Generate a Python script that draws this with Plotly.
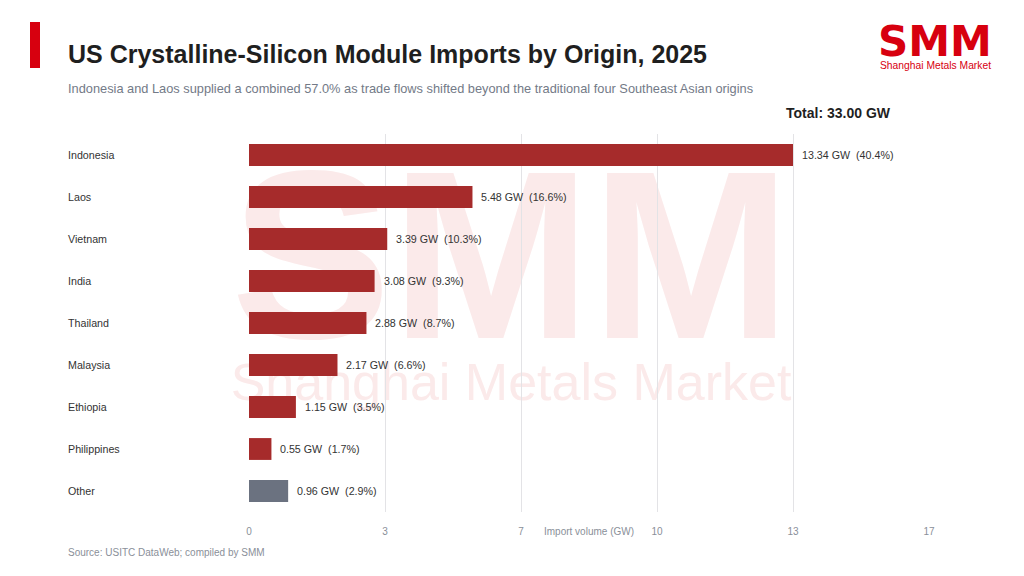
import plotly.graph_objects as go

categories = ["Indonesia", "Laos", "Vietnam", "India", "Thailand", "Malaysia", "Ethiopia", "Philippines", "Other"]
values_gw = [13.34, 5.48, 3.39, 3.08, 2.88, 2.17, 1.15, 0.55, 0.96]
shares_pct = [40.4, 16.6, 10.3, 9.3, 8.7, 6.6, 3.5, 1.7, 2.9]
total_gw = 33.00
tick_labels = ["0", "3", "7", "10", "13", "17"]

W, H = 1024, 576
L, R, T, B = 249, 929, 134, 512

def px(x):
    return (x - L) / (R - L)

def py(y):
    return (B - y) / (B - T)

RED = "#a62b2b"
SLATE = "#6b7280"
colors = [SLATE if c == "Other" else RED for c in categories]

step = max(values_gw) / 4
tickvals = [i * step for i in range(len(tick_labels))]

FONT = "Liberation Sans, Arial"

fig = go.Figure()
fig.add_trace(go.Bar(
    y=categories, x=values_gw, orientation="h",
    marker=dict(color=colors, line=dict(width=0)),
    width=0.52, hoverinfo="skip",
))

ann = []
for c in categories:
    ann.append(dict(x=px(66), xref="paper", y=c, yref="y", text=c, showarrow=False,
                    xanchor="left", yanchor="middle",
                    font=dict(family=FONT, size=10.7, color="#333333")))
for c, v, s in zip(categories, values_gw, shares_pct):
    ann.append(dict(x=v, xref="x", y=c, yref="y", text=f"{v:.2f} GW  ({s:.1f}%)", showarrow=False,
                    xanchor="left", yanchor="middle", xshift=7,
                    font=dict(family=FONT, size=10.7, color="#333333")))

ann += [
    dict(x=px(66), y=py(54), xref="paper", yref="paper", xanchor="left", yanchor="middle",
         text="<b>US Crystalline-Silicon Module Imports by Origin, 2025</b>", showarrow=False,
         font=dict(family=FONT, size=25, color="#1f1f1f")),
    dict(x=px(66), y=py(88), xref="paper", yref="paper", xanchor="left", yanchor="middle",
         text="Indonesia and Laos supplied a combined 57.0% as trade flows shifted beyond the traditional four Southeast Asian origins",
         showarrow=False, font=dict(family=FONT, size=12.8, color="#737a87")),
    dict(x=px(893), y=py(113), xref="paper", yref="paper", xanchor="right", yanchor="middle",
         text=f"<b>Total: {total_gw:.2f} GW</b>", showarrow=False,
         font=dict(family=FONT, size=14, color="#1f1f1f")),
    dict(x=0.5, y=py(531), xref="paper", yref="paper", xanchor="center", yanchor="middle",
         text="Import volume (GW)", showarrow=False,
         font=dict(family=FONT, size=10, color="#8a8f99")),
    dict(x=px(66), y=py(552), xref="paper", yref="paper", xanchor="left", yanchor="middle",
         text="Source: USITC DataWeb; compiled by SMM", showarrow=False,
         font=dict(family=FONT, size=10, color="#8a8f99")),
    dict(x=px(935), y=py(41), xref="paper", yref="paper", xanchor="center", yanchor="middle",
         text="<b>SMM</b>", showarrow=False,
         font=dict(family="DejaVu Sans", size=42, color="#d7000f")),
    dict(x=px(935), y=py(66), xref="paper", yref="paper", xanchor="center", yanchor="middle",
         text="Shanghai Metals Market", showarrow=False,
         font=dict(family=FONT, size=10.3, color="#d7000f")),
]

shapes = [
    dict(type="rect", xref="paper", yref="paper", x0=px(30), x1=px(40), y0=py(22), y1=py(68),
         fillcolor="#d7000f", line=dict(width=0), layer="above"),
    dict(type="rect", xref="paper", yref="paper", x0=px(232), x1=px(790), y0=py(315), y1=py(148),
         fillcolor="rgba(0,0,0,0)", line=dict(width=0), layer="below",
         label=dict(text="<b>SMM</b>", textposition="middle center",
                    font=dict(family=FONT, size=240, color="#fbeaea"))),
    dict(type="rect", xref="paper", yref="paper", x0=px(232), x1=px(790), y0=py(401), y1=py(353),
         fillcolor="rgba(0,0,0,0)", line=dict(width=0), layer="below",
         label=dict(text="Shanghai Metals Market", textposition="middle center",
                    font=dict(family=FONT, size=52, color="#fbeaea"))),
]

fig.update_layout(
    width=W, height=H,
    margin=dict(l=L, r=W - R, t=T, b=H - B, pad=0),
    paper_bgcolor="white", plot_bgcolor="rgba(0,0,0,0)",
    showlegend=False, bargap=0.48,
    annotations=ann, shapes=shapes,
    font=dict(family=FONT),
)
fig.update_xaxes(range=[0, tickvals[-1]], tickvals=tickvals, ticktext=tick_labels,
                 showgrid=True, gridcolor="#e3e3e6", gridwidth=1, zeroline=False,
                 showline=False, ticks="", ticklabelstandoff=12,
                 tickfont=dict(size=10, color="#8a8f99"), fixedrange=True)
fig.update_yaxes(categoryorder="array", categoryarray=categories, autorange="reversed",
                 showticklabels=False, showgrid=False, zeroline=False, showline=False,
                 ticks="", fixedrange=True)

fig.write_html("out.html", config={"displayModeBar": False},
               post_script="document.body.style.margin='0';document.body.style.padding='0';")
